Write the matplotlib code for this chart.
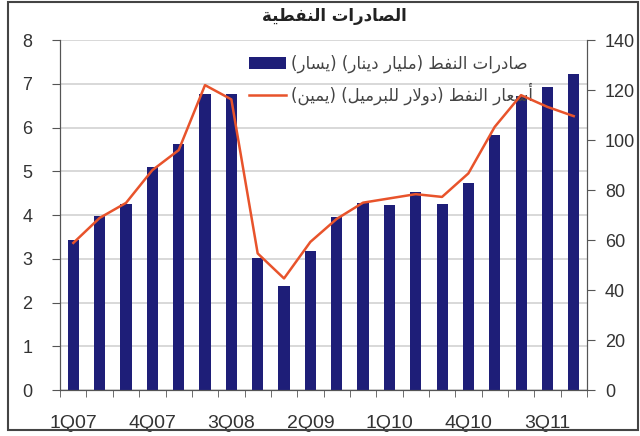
import matplotlib
matplotlib.use('Agg')

import matplotlib.pyplot as plt
from matplotlib.patches import Rectangle
import numpy as np

# quarterly data, 1Q07 .. 4Q11
quarters = ["1Q07", "2Q07", "3Q07", "4Q07", "1Q08", "2Q08", "3Q08", "4Q08",
            "1Q09", "2Q09", "3Q09", "4Q09", "1Q10", "2Q10", "3Q10", "4Q10",
            "1Q11", "2Q11", "3Q11", "4Q11"]
exports = [3.43, 3.98, 4.25, 5.1, 5.63, 6.78, 6.78, 3.03, 2.39, 3.18,
           3.95, 4.27, 4.23, 4.52, 4.25, 4.73, 5.83, 6.73, 6.94, 7.22]   # billion dinars
prices = [58.9, 68.9, 74.9, 88.0, 96.0, 122.0, 116.3, 54.7, 44.7, 59.3,
          68.5, 75.0, 76.7, 78.4, 77.3, 86.7, 105.3, 118.0, 113.3, 109.6]  # $/bbl

title_txt = "الصادرات النفطية"
label_exports = "صادرات النفط (مليار دينار) (يسار)"
label_prices = "أسعار النفط (دولار للبرميل) (يمين)"


# matplotlib has no arabic shaping, so do it by hand with presentation forms
# (isolated, final, initial, medial)
FORMS = {
    'ا': ('\uFE8D', '\uFE8E', None, None),
    'أ': ('\uFE83', '\uFE84', None, None),
    'ب': ('\uFE8F', '\uFE90', '\uFE91', '\uFE92'),
    'ة': ('\uFE93', '\uFE94', None, None),
    'ت': ('\uFE95', '\uFE96', '\uFE97', '\uFE98'),
    'د': ('\uFEA9', '\uFEAA', None, None),
    'ر': ('\uFEAD', '\uFEAE', None, None),
    'ز': ('\uFEAF', '\uFEB0', None, None),
    'س': ('\uFEB1', '\uFEB2', '\uFEB3', '\uFEB4'),
    'ص': ('\uFEB9', '\uFEBA', '\uFEBB', '\uFEBC'),
    'ط': ('\uFEC1', '\uFEC2', '\uFEC3', '\uFEC4'),
    'ع': ('\uFEC9', '\uFECA', '\uFECB', '\uFECC'),
    'ف': ('\uFED1', '\uFED2', '\uFED3', '\uFED4'),
    'ل': ('\uFEDD', '\uFEDE', '\uFEDF', '\uFEE0'),
    'م': ('\uFEE1', '\uFEE2', '\uFEE3', '\uFEE4'),
    'ن': ('\uFEE5', '\uFEE6', '\uFEE7', '\uFEE8'),
    'و': ('\uFEED', '\uFEEE', None, None),
    'ي': ('\uFEF1', '\uFEF2', '\uFEF3', '\uFEF4'),
    'لا': ('\uFEFB', '\uFEFC', None, None),
    'لأ': ('\uFEF7', '\uFEF8', None, None),
}


def shape(s):
    # merge lam-alef
    units = []
    i = 0
    while i < len(s):
        if s[i] == 'ل' and i + 1 < len(s) and s[i + 1] in 'اأ':
            units.append(s[i:i + 2])
            i += 2
        else:
            units.append(s[i])
            i += 1
    out = []
    for k, u in enumerate(units):
        if u not in FORMS:
            out.append(u)
            continue
        prev = units[k - 1] if k > 0 else None
        nxt = units[k + 1] if k + 1 < len(units) else None
        jp = prev in FORMS and FORMS[prev][2] is not None
        jn = FORMS[u][2] is not None and nxt in FORMS
        iso, fin, ini, med = FORMS[u]
        if jp and jn:
            out.append(med)
        elif jp:
            out.append(fin)
        elif jn:
            out.append(ini)
        else:
            out.append(iso)
    vis = ''.join(out)[::-1]
    return vis.translate(str.maketrans('()', ')('))


plt.rcParams['font.family'] = ['Liberation Sans', 'DejaVu Sans']

fig = plt.figure(figsize=(6.4, 4.36), dpi=100)
ax = fig.add_axes([0.094, 0.105, 0.823, 0.803])
ax2 = ax.twinx()

x = np.arange(len(quarters))
bars = ax.bar(x, exports, width=0.42, color='#1e1e78', zorder=2,
              label=shape(label_exports))
line, = ax2.plot(x, prices, color='#e8532b', lw=1.8, zorder=3,
                 label=shape(label_prices))

ax.set_xlim(-0.5, len(quarters) - 0.5)
ax.set_ylim(0, 8)
ax2.set_ylim(0, 140)
ax.set_yticks(range(0, 9))
ax2.set_yticks(range(0, 141, 20))
ax.yaxis.grid(True, color='#d6d6d6', lw=1.3, zorder=0)
ax.set_axisbelow(True)

ax.set_xticks(x[::3])
ax.set_xticklabels(quarters[::3])
ax.set_xticks(np.arange(-0.5, len(quarters)), minor=True)

for a in (ax, ax2):
    a.spines['top'].set_visible(False)
    for sp in ('left', 'right', 'bottom'):
        a.spines[sp].set_color('#555555')
    a.tick_params(axis='both', labelsize=13, labelcolor='#333333', color='#555555')
ax.tick_params(axis='x', which='major', length=0, pad=18, labelsize=14)
ax.tick_params(axis='x', which='minor', length=5, color='#555555', direction='out')
ax.tick_params(axis='y', length=6, pad=14)
ax2.tick_params(axis='y', length=6, pad=7)

fig.text(0.523, 0.963, shape(title_txt), ha='center', va='center',
         fontsize=12, fontweight='bold', color='#222222', family=['DejaVu Sans'])

leg = ax.legend([bars, line], [shape(label_exports), shape(label_prices)],
                loc='upper left', bbox_to_anchor=(0.33, 1.0), frameon=False,
                labelspacing=0.55, handlelength=2.2, handletextpad=0.3,
                prop={'family': ['DejaVu Sans'], 'size': 12})
for t in leg.get_texts():
    t.set_color('#444444')

# outer frame
fig.patches.append(Rectangle((8 / 640, 6 / 436), 630 / 640, 428 / 436,
                             transform=fig.transFigure, fill=False,
                             edgecolor='#444444', lw=1.5))

plt.savefig("out.png", dpi=100)
plt.close()
